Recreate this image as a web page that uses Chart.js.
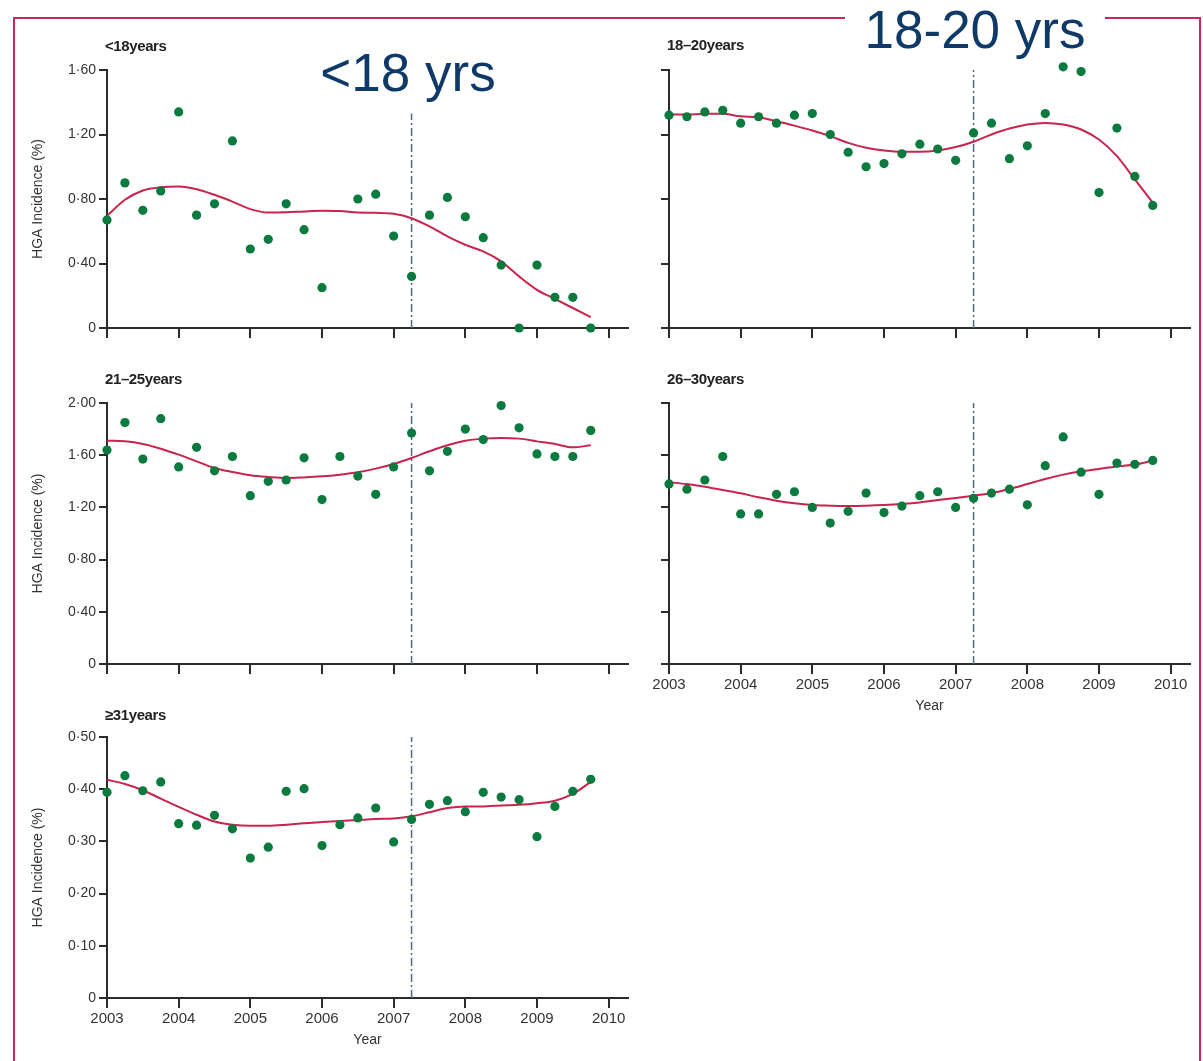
<!DOCTYPE html>
<html>
<head>
<meta charset="utf-8">
<script src="https://cdn.jsdelivr.net/npm/chart.js@4.4.1/dist/chart.umd.min.js"></script>
<style>
html,body{margin:0;padding:0;background:#fff;}
#stage{position:relative;width:1203px;height:1061px;overflow:hidden;background:#fff;}
#stage canvas{position:absolute;left:0;top:0;}
.frame{position:absolute;left:13px;top:17px;width:1188px;height:1100px;border:2px solid #c8285a;box-sizing:border-box;}
.big{position:absolute;font-family:"Liberation Sans",Arial,sans-serif;font-size:53px;line-height:53px;height:53px;color:#0f3a68;text-align:center;white-space:nowrap;}
.ptitle{position:absolute;font-family:"Liberation Sans",Arial,sans-serif;font-weight:bold;font-size:15px;line-height:16px;color:#222;letter-spacing:-0.4px;white-space:nowrap;}
</style>
</head>
<body>
<div id="stage">
  <div class="frame"></div>
  <canvas id="c1" width="1203" height="1061"></canvas>
  <canvas id="c2" width="1203" height="1061"></canvas>
  <canvas id="c3" width="1203" height="1061"></canvas>
  <canvas id="c4" width="1203" height="1061"></canvas>
  <canvas id="c5" width="1203" height="1061"></canvas>
  <div class="big" style="left:845px;top:3px;width:260px;background:#fff;">18-20 yrs</div>
  <div class="big" style="left:308px;top:46px;width:200px;">&lt;18 yrs</div>
  <div class="ptitle" style="left:105px;top:38px;">&lt;18years</div>
  <div class="ptitle" style="left:667px;top:37px;">18–20years</div>
  <div class="ptitle" style="left:105px;top:371px;">21–25years</div>
  <div class="ptitle" style="left:667px;top:371px;">26–30years</div>
  <div class="ptitle" style="left:105px;top:707px;">≥31years</div>
</div>
<script>
// ---- data ----
const quarters = [2003, 2003.25, 2003.5, 2003.75, 2004, 2004.25, 2004.5, 2004.75,
  2005, 2005.25, 2005.5, 2005.75, 2006, 2006.25, 2006.5, 2006.75,
  2007, 2007.25, 2007.5, 2007.75, 2008, 2008.25, 2008.5, 2008.75,
  2009, 2009.25, 2009.5, 2009.75];
const years = [2003, 2004, 2005, 2006, 2007, 2008, 2009, 2010];
const interventionYear = 2007.25;

const under18 = [0.67, 0.90, 0.73, 0.85, 1.34, 0.70, 0.77, 1.16, 0.49, 0.55, 0.77, 0.61, 0.25, null,
  0.80, 0.83, 0.57, 0.32, 0.70, 0.81, 0.69, 0.56, 0.39, 0, 0.39, 0.19, 0.19, 0];
const under18Fit = [0.696, 0.795, 0.853, 0.873, 0.877, 0.861, 0.826, 0.784, 0.737, 0.716, 0.718, 0.723, 0.727, 0.725,
  0.716, 0.714, 0.708, 0.681, 0.630, 0.568, 0.516, 0.475, 0.413, 0.320, 0.237, 0.180, 0.124, 0.068];

const age18to20 = [1.32, 1.31, 1.34, 1.35, 1.27, 1.31, 1.27, 1.32, 1.33, 1.20, 1.09, 1.00, 1.02, 1.08,
  1.14, 1.11, 1.04, 1.21, 1.27, 1.05, 1.13, 1.33, 1.62, 1.59, 0.84, 1.24, 0.94, 0.76];
const age18to20Fit = [1.324, 1.324, 1.328, 1.328, 1.313, 1.307, 1.282, 1.255, 1.225, 1.190, 1.148, 1.118, 1.101, 1.093,
  1.093, 1.101, 1.122, 1.155, 1.200, 1.237, 1.262, 1.272, 1.262, 1.231, 1.169, 1.066, 0.922, 0.777];

const age21to25 = [1.64, 1.85, 1.57, 1.88, 1.51, 1.66, 1.48, 1.59, 1.29, 1.40, 1.41, 1.58, 1.26, 1.59,
  1.44, 1.30, 1.51, 1.77, 1.48, 1.63, 1.80, 1.72, 1.98, 1.81, 1.61, 1.59, 1.59, 1.79];
const age21to25Fit = [1.711, 1.706, 1.686, 1.650, 1.604, 1.553, 1.502, 1.471, 1.446, 1.433, 1.425, 1.430, 1.438, 1.451,
  1.469, 1.497, 1.533, 1.579, 1.630, 1.676, 1.711, 1.727, 1.732, 1.727, 1.706, 1.686, 1.660, 1.676];

const age26to30 = [1.38, 1.34, 1.41, 1.59, 1.15, 1.15, 1.30, 1.32, 1.20, 1.08, 1.17, 1.31, 1.16, 1.21,
  1.29, 1.32, 1.20, 1.27, 1.31, 1.34, 1.22, 1.52, 1.74, 1.47, 1.30, 1.54, 1.53, 1.56];
const age26to30Fit = [1.392, 1.379, 1.359, 1.333, 1.308, 1.277, 1.251, 1.231, 1.218, 1.213, 1.210, 1.213, 1.218, 1.226,
  1.238, 1.256, 1.272, 1.290, 1.310, 1.341, 1.379, 1.418, 1.451, 1.477, 1.495, 1.513, 1.528, 1.559];

const age31plus = [0.394, 0.426, 0.397, 0.414, 0.334, 0.331, 0.350, 0.324, 0.268, 0.289, 0.396, 0.401, 0.292, 0.332,
  0.345, 0.364, 0.299, 0.342, 0.371, 0.378, 0.357, 0.394, 0.385, 0.380, 0.309, 0.367, 0.396, 0.419];
const age31plusFit = [0.418, 0.410, 0.398, 0.382, 0.366, 0.351, 0.338, 0.332, 0.330, 0.330, 0.332, 0.335, 0.337, 0.339,
  0.341, 0.343, 0.344, 0.348, 0.356, 0.364, 0.367, 0.367, 0.369, 0.370, 0.373, 0.378, 0.391, 0.414];

const yTicksLow = [0, 0.40, 0.80, 1.20, 1.60];
const yTicksHigh = [0, 0.40, 0.80, 1.20, 1.60, 2.00];
const yTicksOld = [0, 0.10, 0.20, 0.30, 0.40, 0.50];

// ---- layout / style ----
const PAGE_W = 1203, PAGE_H = 1061;
const colLeft = [107, 669], colRight = [628, 1190];
const rowTop = [70, 403, 737], rowBottom = [328, 664, 998];
const X_MAX = 2010.27;
const AXIS = '#2b2b2b';
Chart.defaults.font.family = '"Liberation Sans", Arial, sans-serif';
Chart.defaults.color = '#333';

const fmt = v => v === 0 ? '0' : Number(v).toFixed(2).replace('.', '·');

const panels = [
  {id: 'c1', dots: under18, fit: under18Fit, yTicks: yTicksLow, vTop: 1.33, col: 0, row: 0, xLabels: false},
  {id: 'c2', dots: age18to20, fit: age18to20Fit, yTicks: yTicksLow, vTop: 1.60, col: 1, row: 0, xLabels: false},
  {id: 'c3', dots: age21to25, fit: age21to25Fit, yTicks: yTicksHigh, vTop: 2.00, col: 0, row: 1, xLabels: false},
  {id: 'c4', dots: age26to30, fit: age26to30Fit, yTicks: yTicksHigh, vTop: 2.00, col: 1, row: 1, xLabels: true},
  {id: 'c5', dots: age31plus, fit: age31plusFit, yTicks: yTicksOld, vTop: 0.50, col: 0, row: 2, xLabels: true}
];

panels.forEach(p => {
  const leftSide = p.col === 0;
  const W = leftSide ? 81 : 30;
  const H = p.xLabels ? 55 : 20;
  const pad = {
    left: colLeft[p.col] - W,
    right: PAGE_W - colRight[p.col],
    top: rowTop[p.row],
    bottom: PAGE_H - rowBottom[p.row] - H
  };
  const yMax = p.yTicks[p.yTicks.length - 1];
  new Chart(document.getElementById(p.id), {
    type: 'scatter',
    data: {
      datasets: [
        {
          data: quarters.map((x, i) => ({x: x, y: p.dots[i]})),
          backgroundColor: '#0a7a3f', borderColor: '#0a7a3f', borderWidth: 0,
          pointRadius: 4.6, pointHoverRadius: 4.6, showLine: false, order: 0, clip: 8
        },
        {
          data: quarters.map((x, i) => ({x: x, y: p.fit[i]})),
          showLine: true, pointRadius: 0, borderColor: '#c8244c', borderWidth: 2,
          cubicInterpolationMode: 'monotone', order: 1
        },
        {
          data: [{x: interventionYear, y: 0}, {x: interventionYear, y: p.vTop}],
          showLine: true, pointRadius: 0, borderColor: '#4d6b80', borderWidth: 1.5,
          borderDash: [8, 3, 2, 3], order: 2
        }
      ]
    },
    options: {
      responsive: false, animation: false, devicePixelRatio: 1,
      layout: {padding: pad},
      plugins: {legend: {display: false}, tooltip: {enabled: false}},
      scales: {
        x: {
          type: 'linear', min: 2003, max: X_MAX,
          afterBuildTicks: s => { s.ticks = years.map(v => ({value: v})); },
          afterFit: s => { s.height = H; },
          ticks: {display: p.xLabels, padding: 2, font: {size: 15}, color: '#333',
                  autoSkip: false, maxRotation: 0, callback: v => String(v)},
          grid: {drawOnChartArea: false, drawTicks: true, tickLength: 10, color: AXIS, lineWidth: 2},
          border: {display: true, color: AXIS, width: 2},
          title: {display: p.xLabels, text: 'Year', font: {size: 14}, color: '#333', padding: {top: 4, bottom: 4}}
        },
        y: {
          type: 'linear', min: 0, max: yMax,
          afterBuildTicks: s => { s.ticks = p.yTicks.map(v => ({value: v})); },
          afterFit: s => { s.width = W; },
          ticks: {display: leftSide, padding: 3, font: {size: 14}, color: '#333', callback: v => fmt(v)},
          grid: {drawOnChartArea: false, drawTicks: true, tickLength: 8, color: AXIS, lineWidth: 2},
          border: {display: true, color: AXIS, width: 2},
          title: {display: leftSide, text: 'HGA Incidence (%)', font: {size: 14}, color: '#333', padding: {top: 4, bottom: 4}}
        }
      }
    }
  });
});
</script>
</body>
</html>
